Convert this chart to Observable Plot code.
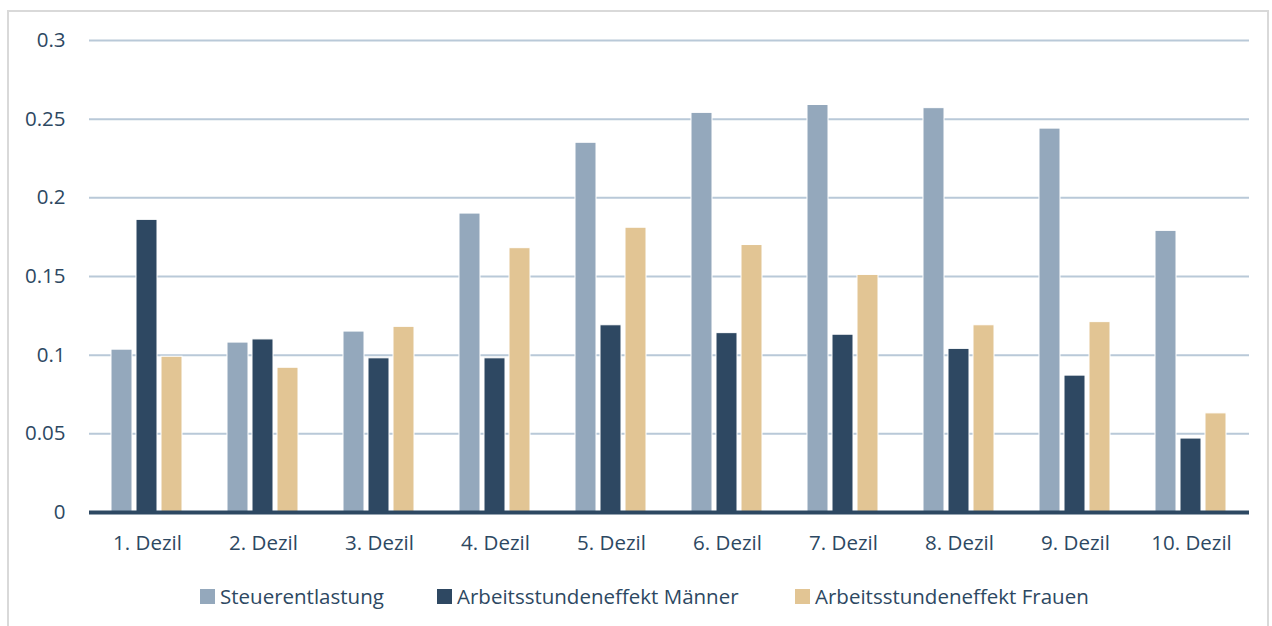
<!DOCTYPE html>
<html>
<head>
<meta charset="utf-8">
<script src="https://cdn.jsdelivr.net/npm/d3@7"></script>
<script src="https://cdn.jsdelivr.net/npm/@observablehq/plot@0.6"></script>
<style>
  html, body { margin: 0; padding: 0; background: #fff; }
  body { position: relative; width: 1272px; height: 626px; overflow: hidden; font-family: "Open Sans", Lato, sans-serif; }
  #frame { position: absolute; left: 7px; top: 10px; width: 1262px; height: 640px; border: 2px solid #d9d9d9; box-sizing: border-box; }
  #chart { position: absolute; left: 0; top: 0; }
  #legend { position: absolute; left: 0; top: 584px; width: 1272px; height: 24px; }
  .item { position: absolute; top: 0; display: flex; align-items: center; font-size: 20.5px; color: #2d4862; line-height: 24px; white-space: nowrap; }
  .sw { width: 15px; height: 15px; margin-right: 5px; display: inline-block; }
</style>
</head>
<body>
<div id="frame"></div>
<div id="chart"></div>
<div id="legend"></div>
<script>
const categories = ["1. Dezil","2. Dezil","3. Dezil","4. Dezil","5. Dezil","6. Dezil","7. Dezil","8. Dezil","9. Dezil","10. Dezil"];
const series = ["Steuerentlastung","Arbeitsstundeneffekt Männer","Arbeitsstundeneffekt Frauen"];
const steuerentlastung = [0.1035,0.108,0.115,0.190,0.235,0.254,0.259,0.257,0.244,0.179];
const maenner = [0.186,0.110,0.098,0.098,0.119,0.114,0.113,0.104,0.087,0.047];
const frauen = [0.099,0.092,0.118,0.168,0.181,0.170,0.151,0.119,0.121,0.063];
const yTicks = [0,0.05,0.1,0.15,0.2,0.25,0.3];
const yTickLabels = ["0","0.05","0.1","0.15","0.2","0.25","0.3"];
const colors = ["#94a8bc","#2e4862","#e2c594"];

const values = [steuerentlastung, maenner, frauen];
const data = [];
categories.forEach((c, i) => series.forEach((s, j) => data.push({dezil: c, serie: s, value: values[j][i]})));

const plot = Plot.plot({
  width: 1272,
  height: 570,
  marginLeft: 85,
  marginRight: 19,
  marginTop: 40,
  marginBottom: 58,
  style: {fontFamily: "'Open Sans', Lato, sans-serif", fontSize: "20.5px", color: "#2d4862", background: "transparent"},
  fx: {domain: categories, padding: 0, label: null, tickSize: 0, tickPadding: 23, axis: "bottom"},
  x: {domain: series, axis: null, paddingInner: 0.15, paddingOuter: 0.82},
  y: {domain: [0, 0.3], ticks: yTicks, tickFormat: d => yTickLabels[yTicks.indexOf(d)], tickSize: 0, tickPadding: 24, label: null},
  color: {domain: series, range: colors},
  marks: [
    Plot.ruleY(yTicks.filter(d => d > 0), {stroke: "#b9c9d8", strokeWidth: 2}),
    Plot.barY(data, {fx: "dezil", x: "serie", y: "value", fill: "serie", stroke: "white", strokeWidth: 1}),
    Plot.ruleY([0], {stroke: "#2d4862", strokeWidth: 4})
  ]
});
document.getElementById("chart").appendChild(plot);

const legendPos = [200, 437, 795];
const legend = document.getElementById("legend");
series.forEach((s, j) => {
  const it = document.createElement("div");
  it.className = "item";
  it.style.left = legendPos[j] + "px";
  it.innerHTML = `<span class="sw" style="background:${colors[j]}"></span><span>${s}</span>`;
  legend.appendChild(it);
});
</script>
</body>
</html>
